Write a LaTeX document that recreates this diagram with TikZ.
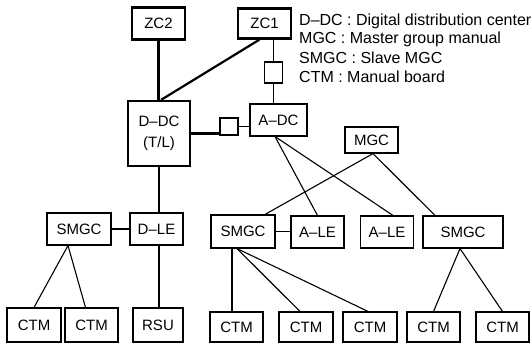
\documentclass[tikz,border=0pt]{standalone}
\usepackage{fontspec}
\setmainfont{Liberation Sans}
\usetikzlibrary{shapes}
\tikzstyle{unit} = [rectangle, inner sep=0pt, minimum width=53pt, minimum height=32pt, text centered, draw=black, line width=1.1pt, font=\fontsize{15}{21}\selectfont]
\tikzstyle{mainunit} = [unit, line width=2.2pt]
\tikzstyle{relay} = [rectangle, inner sep=0pt, minimum width=18pt, minimum height=18pt, draw=black, line width=1.1pt]
\tikzstyle{legend} = [anchor=west, inner sep=0pt, font=\fontsize{16}{18}\selectfont]
\tikzstyle{link} = [line width=1.1pt]
\tikzstyle{trunk} = [line width=2.2pt]

\begin{document}
\begin{tikzpicture}[x=1pt, y=-1pt]
\useasboundingbox (0,0) rectangle (532,343);

% top level
\node (zc2) [mainunit] at (158.5,23.5) {ZC2};
\node (zc1) [mainunit, minimum height=30pt] at (264.5,23.5) {ZC1};
\node (ddc) [mainunit, minimum width=62pt, minimum height=65pt, align=center] at (159,133.5) {D--DC\\(T/L)};
\node (sqa) [relay, minimum height=21pt] at (273.5,72.5) {};
\node (sqb) [relay, minimum height=17pt] at (229,126.5) {};
\node (adc) [unit, minimum width=57pt] at (278.5,120) {A--DC};
\node (mgc) [unit, minimum height=26pt] at (371.5,140) {MGC};

% legend
\node (lg1) [legend] at (299,21) {D--DC : Digital distribution center};
\node (lg2) [legend] at (299,39.5) {MGC : Master group manual};
\node (lg3) [legend] at (299,58) {SMGC : Slave MGC};
\node (lg4) [legend] at (299,76.5) {CTM : Manual board};

% middle row
\node (smgcl) [unit, minimum width=64pt] at (79,229) {SMGC};
\node (dle) [mainunit] at (156.5,229) {D--LE};
\node (smgcm) [unit, minimum width=64pt, minimum height=33pt] at (243,231.5) {SMGC};
\node (alea) [unit] at (317.5,232) {A--LE};
\node (aleb) [unit] at (387,232) {A--LE};
\node (smgcr) [unit, minimum width=80pt] at (463,232) {SMGC};

% bottom row
\node (ctm1) [unit, minimum width=54pt, minimum height=34pt] at (34,325) {CTM};
\node (ctm2) [unit, minimum height=34pt] at (91.5,325) {CTM};
\node (rsu) [mainunit, minimum width=50pt, minimum height=34pt] at (158,325) {RSU};
\node (ctm3) [unit, minimum height=30pt] at (236.5,327) {CTM};
\node (ctm4) [unit, minimum width=54pt, minimum height=30pt] at (306,327) {CTM};
\node (ctm5) [unit, minimum width=54pt, minimum height=30pt] at (370,327) {CTM};
\node (ctm6) [unit, minimum height=30pt] at (433.5,327) {CTM};
\node (ctm7) [unit, minimum height=30pt] at (502.5,327) {CTM};

% trunk lines
\coordinate (tb) at ([yshift=2pt]sqb.south west);
\draw [trunk] (zc2.south) -- (zc2.south |- ddc.north);
\draw [trunk] ([xshift=-5pt]zc1.south) -- ([xshift=2pt]ddc.north);
\draw [trunk] (tb) -- (tb -| ddc.east);
\draw [trunk] (ddc.south) -- (ddc.south |- dle.north);
\draw [trunk] (dle.south -| ddc.south) -- (rsu.north -| ddc.south);

% thin lines
\draw [link] (sqa.north) -- (sqa.north |- zc1.south);
\draw [link] (sqa.south) -- (sqa.south |- adc.north);
\draw [link] (sqb.east) -- (sqb.east -| adc.west);
\draw [link] (smgcl.east) -- (smgcl.east -| dle.west);
\draw [link] (smgcm.east) -- (smgcm.east -| alea.west);
\draw [link] ([xshift=-11pt]smgcl.south) -- (ctm1.north);
\draw [link] ([xshift=-11pt]smgcl.south) -- ([xshift=-6pt]ctm2.north);
\draw [link] ([xshift=-3.5pt]adc.south) -- (alea.north);
\draw [link] ([xshift=-3.5pt]adc.south) -- ([xshift=6pt]aleb.north);
\draw [link] ([xshift=1.5pt]mgc.south) -- ([xshift=22pt]smgcm.north);
\draw [link] ([xshift=1.5pt]mgc.south) -- ([xshift=-28pt]smgcr.north);
\draw [link] ([xshift=-4.5pt]ctm3.north) -- ([xshift=-4.5pt]ctm3.north |- smgcm.south);
\draw [link] ([xshift=-6pt]smgcm.south) -- ([xshift=-6pt]ctm4.north);
\draw [link] ([xshift=-6pt]smgcm.south) -- ([xshift=-2pt]ctm5.north);
\draw [link] ([xshift=-3pt]smgcr.south) -- (ctm6.north);
\draw [link] ([xshift=-3pt]smgcr.south) -- (ctm7.north);

\end{tikzpicture}
\end{document}
